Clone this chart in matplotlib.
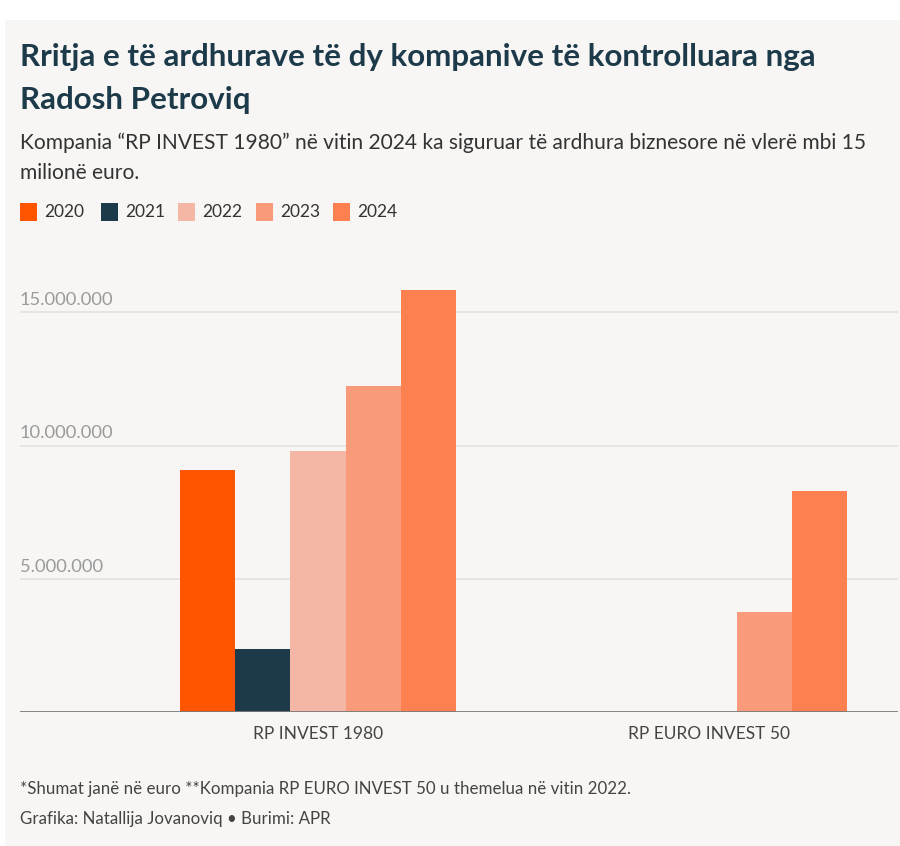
import matplotlib.pyplot as plt
import matplotlib.patches as mpatches
import numpy as np

# data
companies = ['RP INVEST 1980', 'RP EURO INVEST 50']
years = ['2020', '2021', '2022', '2023', '2024']
invest_1980 = [9080000, 2360000, 9810000, 12240000, 15830000]
euro_invest_50 = [0, 0, 0, 3760000, 8300000]
colors = ['#ff5500', '#1c3a4a', '#f5b7a5', '#f99b7b', '#fd8150']

BG = '#f7f6f4'
DARK = '#1d3a4a'
W, H = 900, 846

plt.rcParams['font.family'] = ['Lato', 'DejaVu Sans']

fig = plt.figure(figsize=(9, 8.46), dpi=100)
fig.patch.set_facecolor('white')
# card background
fig.add_artist(mpatches.Rectangle((5 / W, 0), 1, 1 - 20 / H, transform=fig.transFigure,
                                  facecolor=BG, edgecolor='none', zorder=0))

ax = fig.add_axes([20 / W, 1 - 712 / H, 878 / W, 453 / H])
ax.set_facecolor(BG)

x = np.arange(len(companies))
width = 0.1407
for i, year in enumerate(years):
    vals = [invest_1980[i], euro_invest_50[i]]
    ax.bar(x + (i - 2) * width, vals, width, color=colors[i], label=year, zorder=3)

ax.set_xlim(-0.762, 1.483)
ax.set_ylim(0, 17000000)

# gridlines with labels above them
for v in [5000000, 10000000, 15000000]:
    ax.axhline(v, color='#e2e1df', lw=1.2, zorder=1)
    ax.annotate(f'{v:,}'.replace(',', '.'), xy=(0, v), xycoords=('axes fraction', 'data'),
                xytext=(0, 3), textcoords='offset points', ha='left', va='bottom',
                fontsize=13.2, color='#9a9a9a')
ax.axhline(0, color='#7a7a7a', lw=2, zorder=4)

ax.set_yticks([])
ax.set_xticks(x)
ax.set_xticklabels(companies, fontsize=12.5, color='#444444')
ax.tick_params(axis='x', length=0, pad=10)
for s in ax.spines.values():
    s.set_visible(False)

# title and subtitle
title_lines = ['Rritja e të ardhurave të dy kompanive të kontrolluara nga', 'Radosh Petroviq']
for k, line in enumerate(title_lines):
    fig.text(20 / W, 1 - (57 + 43 * k) / H, line, fontsize=22.6, fontweight='bold',
             color=DARK, va='center', ha='left')
sub_lines = ['Kompania “RP INVEST 1980” në vitin 2024 ka siguruar të ardhura biznesore në vlerë mbi 15',
             'milionë euro.']
for k, line in enumerate(sub_lines):
    fig.text(20 / W, 1 - (143 + 30 * k) / H, line, fontsize=15.1, color='#333333',
             va='center', ha='left')

# legend
legend_x = [20, 101, 178, 256, 333]
for lx, year, c in zip(legend_x, years, colors):
    fig.add_artist(mpatches.Rectangle((lx / W, 1 - 221 / H), 17 / W, 18 / H,
                                      transform=fig.transFigure, facecolor=c, edgecolor='none'))
    fig.text((lx + 24) / W, 1 - 212 / H, year, fontsize=12.5, color='#333333',
             va='center', ha='left')

# footnotes
fig.text(20 / W, 1 - 789 / H,
         '*Shumat janë në euro **Kompania RP EURO INVEST 50 u themelua në vitin 2022.',
         fontsize=12.2, color='#444444', va='center', ha='left')
fig.text(20 / W, 1 - 819 / H, 'Grafika: Natallija Jovanoviq • Burimi: APR',
         fontsize=12.2, color='#444444', va='center', ha='left')

fig.savefig('out.png', dpi=100, facecolor=fig.get_facecolor())
